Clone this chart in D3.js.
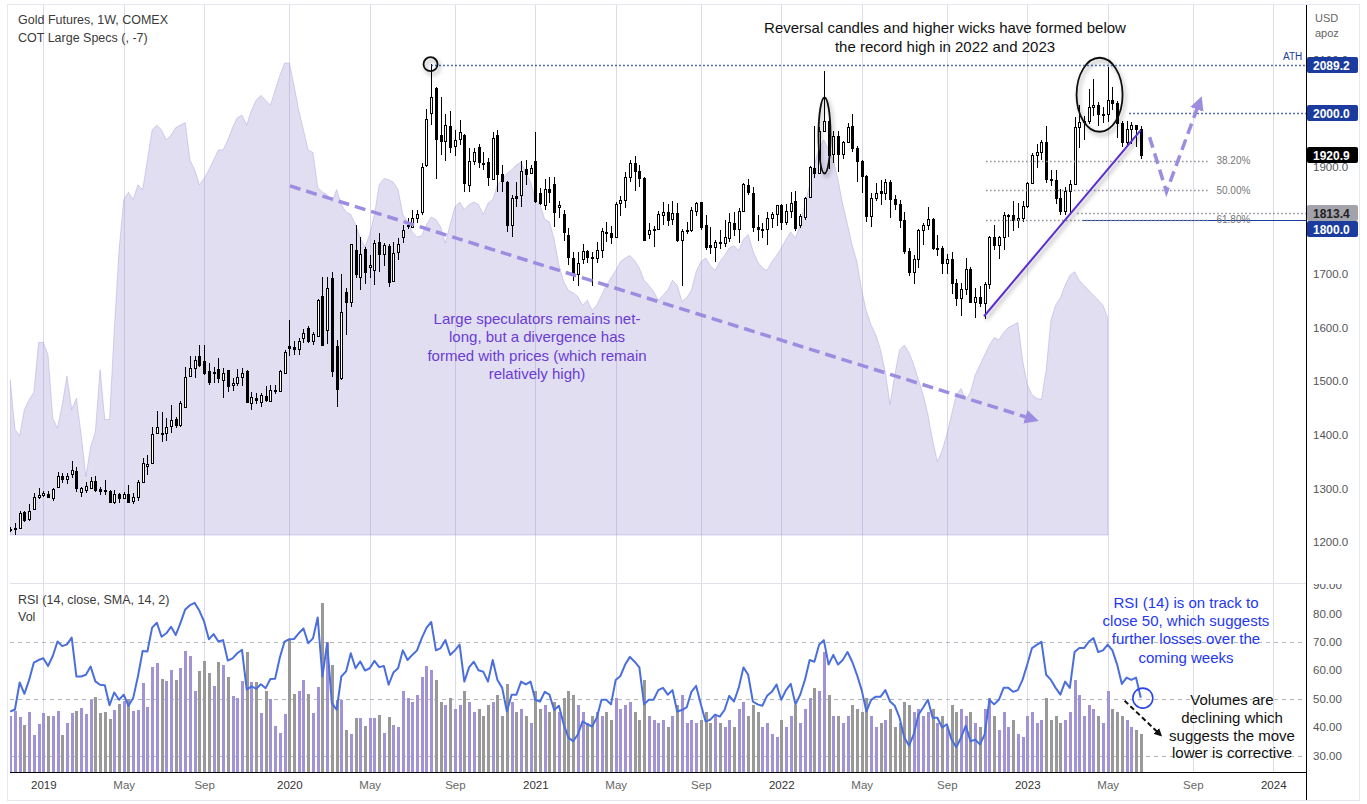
<!DOCTYPE html>
<html><head><meta charset="utf-8">
<script src="https://cdn.jsdelivr.net/npm/d3@7"></script>
<style>
body{margin:0;background:#fff;}
svg{display:block;font-family:"Liberation Sans",Arial,sans-serif;}
</style></head><body>
<svg id="c" width="1367" height="804"></svg>
<script>
// ---------------- DATA ----------------
const startWeek = "2018-11-19"; // first weekly bar (Monday)
const opens = [1222,1224,1227,1256,1243,1261,1284,1288,1289,1282,
1303,1323,1318,1326,1332,1293,1297,1300,1314,1299,
1297,1296,1275,1290,1282,1289,1276,1283,1312,1341,
1347,1404,1403,1403,1416,1429,1418,1451,1510,1524,
1547,1537,1519,1515,1522,1503,1521,1492,1496,1508,
1519,1460,1468,1462,1472,1463,1481,1482,1516,1565,
1564,1559,1581,1600,1575,1585,1659,1595,1693,1566,
1505,1666,1648,1744,1694,1746,1712,1707,1759,1737,
1752,1687,1741,1768,1790,1788,1805,1815,1903,2000,
2046,1959,1948,1976,1939,1951,1959,1866,1911,1936,
1907,1908,1877,1959,1887,1872,1792,1845,1847,1896,
1889,1911,1850,1829,1858,1867,1825,1811,1773,1729,
1699,1727,1743,1732,1729,1744,1779,1777,1769,1832,
1838,1881,1906,1892,1878,1774,1781,1783,1810,1815,
1802,1814,1763,1780,1782,1818,1834,1791,1754,1751,
1760,1757,1767,1795,1784,1818,1866,1850,1787,1784,
1784,1805,1811,1828,1797,1817,1836,1791,1806,1843,
1897,1889,1966,1985,1923,1958,1923,1945,1976,1934,
1910,1882,1808,1842,1854,1850,1871,1840,1830,1800,
1742,1703,1727,1781,1791,1802,1748,1749,1721,1728,
1683,1655,1672,1709,1648,1656,1645,1681,1769,1754,
1768,1809,1810,1800,1804,1826,1870,1921,1928,1945,
1877,1875,1842,1817,1855,1868,1973,1983,1986,2011,
2015,1999,1999,2025,2019,1981,1946,1970,1977,1971];
const highs = [1228,1235,1258,1258,1271,1291,1301,1296,1296,1301,
1331,1328,1328,1351,1339,1303,1311,1322,1324,1303,
1316,1297,1297,1291,1294,1306,1291,1316,1356,1362,
1415,1444,1443,1431,1455,1433,1463,1526,1547,1546,
1567,1567,1534,1527,1544,1524,1521,1505,1522,1524,
1520,1480,1477,1478,1491,1493,1493,1521,1558,1614,
1575,1580,1597,1602,1592,1654,1695,1695,1704,1577,
1699,1673,1756,1791,1768,1751,1735,1763,1777,1757,
1755,1759,1766,1791,1805,1820,1819,1907,2007,2091,
2048,2029,1998,2003,1968,1987,1961,1935,1934,1942,
1927,1916,1965,1968,1903,1873,1848,1872,1911,1912,
1903,1964,1860,1877,1880,1881,1835,1819,1785,1741,
1740,1755,1745,1740,1760,1785,1797,1790,1834,1846,
1890,1913,1919,1903,1880,1795,1790,1818,1834,1830,
1835,1832,1783,1796,1824,1834,1834,1809,1788,1764,
1782,1800,1814,1815,1823,1870,1877,1862,1810,1794,
1815,1815,1829,1831,1830,1853,1855,1811,1844,1902,
1976,1974,2078,1996,1966,1966,1948,1982,1998,1938,
1912,1885,1850,1870,1875,1877,1875,1848,1838,1815,
1748,1735,1783,1795,1824,1804,1772,1752,1737,1740,
1691,1683,1730,1712,1674,1677,1685,1771,1791,1770,
1815,1812,1836,1833,1835,1871,1925,1942,1949,1975,
1894,1893,1858,1862,1875,1993,2015,1994,2045,2063,
2021,2012,2085,2048,2022,1985,1985,1984,1976,1975];
const lows = [1218,1213,1224,1238,1240,1260,1281,1284,1282,1277,
1301,1310,1309,1319,1294,1283,1292,1298,1294,1288,
1288,1274,1270,1272,1280,1274,1271,1277,1310,1325,
1345,1401,1387,1389,1403,1412,1415,1450,1509,1505,
1527,1511,1493,1496,1496,1468,1480,1482,1490,1490,
1460,1447,1457,1452,1462,1462,1476,1481,1515,1546,
1549,1549,1572,1571,1567,1583,1566,1569,1508,1452,
1502,1586,1639,1692,1670,1681,1693,1679,1704,1714,
1675,1686,1726,1757,1784,1785,1794,1809,1900,1978,
1877,1922,1911,1925,1919,1940,1853,1853,1903,1897,
1894,1864,1875,1853,1853,1779,1769,1825,1825,1866,
1888,1832,1829,1819,1832,1788,1804,1761,1717,1687,
1677,1718,1720,1678,1721,1730,1760,1756,1768,1808,
1822,1872,1855,1862,1761,1765,1750,1781,1792,1789,
1791,1760,1677,1774,1778,1808,1782,1745,1737,1722,
1746,1750,1759,1770,1758,1815,1847,1778,1761,1766,
1753,1785,1790,1782,1791,1805,1780,1785,1800,1842,
1878,1888,1966,1895,1907,1890,1915,1945,1928,1872,
1851,1797,1787,1836,1829,1837,1805,1819,1785,1737,
1696,1681,1711,1754,1782,1745,1733,1700,1699,1662,
1641,1622,1660,1652,1618,1638,1616,1672,1745,1727,
1745,1768,1780,1785,1796,1822,1868,1897,1912,1870,
1864,1830,1810,1809,1813,1867,1935,1949,1980,1995,
1975,1982,1984,2005,1953,1936,1939,1942,1936,1915];
const closes = [1224,1226,1255,1241,1258,1283,1288,1291,1284,1298,
1323,1318,1323,1334,1300,1301,1305,1314,1297,1296,
1296,1275,1290,1282,1289,1275,1284,1312,1347,1345,
1401,1414,1401,1414,1427,1418,1460,1508,1524,1539,
1530,1515,1499,1517,1505,1516,1490,1497,1508,1515,
1462,1471,1465,1474,1465,1483,1483,1519,1555,1561,
1560,1575,1590,1575,1587,1651,1567,1673,1518,1485,
1628,1647,1755,1700,1737,1703,1717,1757,1737,1753,
1684,1738,1756,1782,1792,1804,1811,1899,1988,2029,
1951,1948,1978,1936,1950,1964,1869,1911,1928,1908,
1905,1881,1953,1887,1873,1791,1841,1842,1891,1886,
1897,1836,1832,1858,1852,1815,1829,1779,1732,1698,
1720,1743,1732,1729,1744,1780,1777,1768,1831,1838,
1881,1906,1892,1879,1764,1781,1784,1811,1815,1801,
1814,1763,1780,1781,1819,1833,1788,1751,1751,1759,
1757,1768,1796,1783,1818,1868,1852,1788,1783,1784,
1804,1811,1828,1797,1817,1832,1786,1808,1842,1899,
1889,1966,1985,1921,1958,1923,1945,1974,1934,1911,
1882,1808,1842,1851,1850,1871,1840,1830,1800,1742,
1703,1727,1781,1791,1802,1748,1749,1721,1728,1683,
1655,1672,1709,1648,1656,1645,1681,1769,1754,1768,
1809,1810,1800,1804,1826,1870,1921,1928,1945,1877,
1875,1842,1817,1855,1868,1973,1983,1986,2011,2015,
1999,1999,2025,2019,1981,1946,1970,1977,1971,1921];
const rsi14 = [45.5,46.2,55.7,51.7,56.6,62.7,63.6,64.2,61.5,65.0,
70.1,68.5,69.1,71.5,57.8,57.8,58.4,61.3,56.1,54.9,
54.7,47.7,52.2,49.6,51.4,47.5,50.2,57.8,66.8,66.6,
75.0,76.7,71.8,73.0,75.3,72.4,76.7,81.4,82.9,83.7,
80.9,77.1,70.9,72.7,70.1,70.6,63.4,64.2,66.0,67.2,
53.2,54.3,53.5,55.1,53.7,56.9,57.0,64.5,70.1,70.9,
71.0,73.0,74.7,69.5,71.2,78.6,57.8,69.5,48.5,46.1,
57.8,59.6,66.0,60.7,63.1,59.9,60.7,63.3,61.1,61.5,
54.9,59.2,60.7,67,63.6,65.4,67,71.3,74.9,77,
67,67.8,70.6,65.4,67,69,56,61,63,60,
59.5,56,63.6,56.6,53.8,45.5,51.4,51.4,56,55,
56,49.6,49,52.4,51.4,46,47.5,41,36.3,35,
37.4,42,41,40.2,43.3,49.6,49.6,48,56.6,58,
62,64.7,63,61,48,49.6,49.6,53,53.8,51.4,
53,45.5,46,46.9,52.4,54.5,48,42,42.6,44.4,
43.7,46,51,49,53.8,61,58.4,49,48,47.5,
51,52.4,55,49.6,53,55.2,48,51.4,56.6,63.6,
63,69,70.6,62,65.4,62,63.6,66.4,63,58.4,
53,45.5,49.6,50.7,50.7,53,49,47.5,43.3,36.3,
33.5,37.4,44.4,46.9,49.6,43.3,43.3,39.8,41,35.6,
32.9,36.3,40.5,35,35.6,33.9,37.4,49.6,48,49.6,
53.8,53.8,52.4,53,56.6,62,67.8,68.9,70,58.4,
56.6,53.8,51.4,56,53.8,66.4,67.8,67.8,70,71.3,
66.4,67,69,67,62,55.2,57.4,56.6,57.4,50.3];
const volumeK = [800,876,781,667,852,540,682,838,795,795,
866,540,696,838,866,909,824,1018,1065,838,
852,757,880,965,1008,1036,866,880,1264,923,
1491,1548,1321,1292,1448,1306,1472,1718,1642,1150,
1425,1576,1406,1216,1562,1515,1349,1074,1046,1292,
1704,1273,1273,847,1150,1032,653,568,824,1884,
1103,1150,1306,1112,838,1207,2390,1832,1519,1018,
1018,601,554,767,767,653,767,767,809,568,
781,667,639,1150,1050,1000,1100,1350,1500,1450,
1300,1000,950,1050,900,950,1150,1000,850,900,
800,950,1000,1100,800,1250,1000,850,900,800,
700,1150,900,950,850,1000,850,1050,1150,1100,
950,850,700,800,850,800,850,750,1050,900,
950,1000,850,750,1300,800,750,700,750,650,
800,950,1100,700,750,700,750,850,700,800,
700,650,750,650,900,1000,800,950,850,650,
700,550,500,750,650,800,950,700,900,1050,
1200,1150,1700,1100,800,800,700,800,950,900,
850,1050,800,650,700,750,900,650,700,1000,
950,850,900,800,850,900,700,800,650,950,
850,900,800,850,700,650,900,1050,800,600,
850,650,750,550,500,800,850,700,750,1050,
750,800,700,750,850,1300,1100,800,950,900,
800,700,1150,900,850,800,750,650,600,550];
const cotNetLongK = [125,85,80,101,109,115,155,155,145,94,
86,105,128,101,110,81,47,71,83,133,
93,93,165,229,270,276,270,282,278,302,
326,330,326,318,322,328,330,332,302,294,
282,287,294,302,310,310,318,328,336,338,
330,342,350,354,350,346,358,370,380,380,
362,342,326,310,308,280,276,274,268,278,
266,260,258,250,239,232,242,258,282,287,
286,284,278,258,252,244,240,241,250,256,
254,248,235,250,264,268,262,266,268,266,
258,267,270,282,286,291,294,298,300,292,
284,271,266,254,252,238,217,204,197,195,
192,185,189,181,185,193,201,207,213,220,
223,225,221,215,205,201,196,189,193,197,
205,201,188,191,197,212,220,223,217,213,
220,225,231,233,229,238,242,229,220,215,
213,220,225,231,238,244,239,250,266,282,
298,312,318,310,302,286,266,250,233,220,
197,180,169,161,149,131,105,129,149,153,
147,137,125,113,97,76,59,68,81,97,
113,118,109,115,129,137,145,153,159,157,
163,167,169,171,141,121,113,110,109,133,
173,185,191,201,209,212,205,201,197,193,
189,185,175];
const priceTicks = [1200,1300,1400,1500,1600,1700,1800,1900,2000,2100];
const rsiTicks = [30,40,50,60,70,80,90];
const priceBadges = [
  {label:"2089.2", value:2089.2, fill:"#1b3c9e", text:"#fff"},
  {label:"2000.0", value:2000.0, fill:"#1b3c9e", text:"#fff"},
  {label:"1920.9", value:1920.9, fill:"#000000", text:"#fff"},
  {label:"1813.4", value:1813.4, fill:"#a3a3ab", text:"#222"},
  {label:"1800.0", value:1800.0, fill:"#1b3c9e", text:"#fff"}];
const fibLow = 1622.0, fibHigh = 2089.2;
const fibLevels = [0.382, 0.5, 0.618];

// ---------------- SETUP ----------------
const L = 10, R = 1306, TOP = 5, PB = 583, RB = 772;
const svg = d3.select("#c");
const parse = d3.utcParse("%Y-%m-%d");
const d0 = parse(startWeek);
const weekDate = i => d3.utcDay.offset(d0, Math.round(7 * i));
const nAll = 272;
const allDates = d3.range(nAll).map(weekDate);
const bars = opens.map((o, i) => ({i, date: allDates[i], o, h: highs[i], l: lows[i], c: closes[i], rsi: rsi14[i], v: volumeK[i]}));

const x = d3.scaleUtc().domain([allDates[0], allDates[59]]).range([10.2, 289.3]);
const xi = i => x(weekDate(i));
const y = d3.scaleLinear().domain([1200, 2000]).range([542, 113]);
const yR = d3.scaleLinear().domain([30, 90]).range([755.5, 585]);
const yV = d3.scaleLinear().domain([0, 2400]).range([773, 602]);
const yC = d3.scaleLinear().domain([0, 380]).range([535, 63]);

const defs = svg.append("defs");
defs.append("clipPath").attr("id", "clipMain").append("rect").attr("x", L).attr("y", TOP).attr("width", R - L).attr("height", PB - TOP);
defs.append("clipPath").attr("id", "clipRsi").append("rect").attr("x", L).attr("y", PB).attr("width", R - L).attr("height", RB - PB + 1);
defs.append("clipPath").attr("id", "clipRsiAxis").append("rect").attr("x", R).attr("y", PB + 1).attr("width", 60).attr("height", RB - PB);
const sh = defs.append("filter").attr("id", "shadow").attr("x", "-50%").attr("y", "-50%").attr("width", "200%").attr("height", "200%");
sh.append("feDropShadow").attr("dx", 2).attr("dy", 3).attr("stdDeviation", 2.2).attr("flood-color", "#000").attr("flood-opacity", 0.35);
const mk = (id, col) => defs.append("marker").attr("id", id).attr("viewBox", "0 0 10 10").attr("refX", 7).attr("refY", 5)
  .attr("markerWidth", 4).attr("markerHeight", 4).attr("orient", "auto-start-reverse").attr("markerUnits", "strokeWidth")
  .append("path").attr("d", "M0,0 L10,5 L0,10 z").attr("fill", col);
mk("arrP", "#9e8ce0");
mk("arrK", "#111");

// frame
svg.append("rect").attr("x", 7.5).attr("y", 4.5).attr("width", 1352).attr("height", 796).attr("fill", "#fff").attr("stroke", "#e6e8ef");

// ticks: first weekly bar of Jan/May/Sep
const ticks = [];
for (let i = 1; i < nAll; i++) {
  const m = allDates[i].getUTCMonth();
  if (m !== allDates[i - 1].getUTCMonth() && (m === 0 || m === 4 || m === 8)) ticks.push(allDates[i]);
}

// vertical grid
svg.append("g").selectAll("line").data(ticks).join("line")
  .attr("x1", d => Math.round(x(d)) + 0.5).attr("x2", d => Math.round(x(d)) + 0.5)
  .attr("y1", TOP).attr("y2", RB).attr("stroke", "#dcdbe8").attr("stroke-width", 1);

// ---------------- MAIN PANE ----------------
const gm = svg.append("g").attr("clip-path", "url(#clipMain)");
const cot = cotNetLongK.map((v, i) => ({i, v}));
gm.append("path").datum(cot)
  .attr("d", d3.area().x(d => xi(d.i)).y0(yC(0)).y1(d => yC(d.v)))
  .attr("fill", "rgba(140,128,206,0.26)").attr("stroke", "rgba(150,138,210,0.35)").attr("stroke-width", 1);

// candles
const gc = gm.append("g").attr("shape-rendering", "crispEdges");
bars.forEach(b => {
  const c = Math.round(xi(b.i));
  const up = b.c >= b.o;
  gc.append("line").attr("x1", c + 0.5).attr("x2", c + 0.5).attr("y1", Math.round(y(b.h))).attr("y2", Math.round(y(b.l)))
    .attr("stroke", "#000").attr("stroke-width", 1);
  const t = Math.round(y(Math.max(b.o, b.c))), bt = Math.round(y(Math.min(b.o, b.c)));
  if (up) {
    gc.append("rect").attr("x", c - 0.5).attr("y", t + 0.5).attr("width", 2).attr("height", Math.max(1, bt - t))
      .attr("fill", "#fff").attr("stroke", "#000").attr("stroke-width", 1);
  } else {
    gc.append("rect").attr("x", c - 1).attr("y", t).attr("width", 3).attr("height", Math.max(2, bt - t + 1)).attr("fill", "#000");
  }
});

// reference lines
const dotted = (x1, x2, v, col, dash) => gm.append("line").attr("x1", x1).attr("x2", x2)
  .attr("y1", Math.round(y(v)) + 0.5).attr("y2", Math.round(y(v)) + 0.5).attr("stroke", col).attr("stroke-width", 1.3).attr("stroke-dasharray", dash);
dotted(xi(89), R, 2089.2, "#1b3c9e", "1.5,2.5");
dotted(xi(236.5), R, 2000, "#1b3c9e", "1.5,2.5");
dotted(xi(225.6), R, 1813.4, "#8a8a95", "1.5,2.5");
gm.append("line").attr("x1", xi(226.5)).attr("x2", R).attr("y1", Math.round(y(1800)) + 0.5).attr("y2", Math.round(y(1800)) + 0.5)
  .attr("stroke", "#1b3c9e").attr("stroke-width", 1.2);
fibLevels.forEach(f => {
  const v = fibHigh - f * (fibHigh - fibLow);
  dotted(xi(206.3), xi(253.5), v, "#8a8a95", "1.5,2.5");
  gm.append("text").attr("x", xi(255)).attr("y", y(v) + 3.5).attr("font-size", 10).attr("fill", "#777")
    .text((f * 100).toFixed(2) + "%");
});
gm.append("text").attr("x", 1283).attr("y", y(2089.2) - 5).attr("font-size", 10).attr("fill", "#1b3c9e").text("ATH");

// drawings
const line = d3.line().x(p => xi(p[0])).y(p => y(p[1]));
gm.append("path").attr("d", line([[59.2, 1864], [216.6, 1428]])).attr("fill", "none").attr("stroke", "#9e8ce0")
  .attr("stroke-width", 3.5).attr("stroke-dasharray", "11,6").attr("marker-end", "url(#arrP)");
gm.append("path").attr("d", line([[240.8, 1955], [244.4, 1853], [251.5, 2024]])).attr("fill", "none").attr("stroke", "#9e8ce0")
  .attr("stroke-width", 3.5).attr("stroke-dasharray", "11,6").attr("marker-end", "url(#arrP)");
gm.append("path").attr("d", line([[205.9, 1621], [239, 1968]])).attr("fill", "none").attr("stroke", "#5a2ed0")
  .attr("stroke-width", 2).attr("filter", "url(#shadow)");
const ell = (ci, cp, rx, ry) => gm.append("ellipse").attr("cx", xi(ci)).attr("cy", y(cp)).attr("rx", rx).attr("ry", ry)
  .attr("fill", "none").attr("stroke", "#111").attr("stroke-width", 1.8).attr("filter", "url(#shadow)");
ell(88.8, 2091, 7, 7);
ell(172.2, 1958, 6, 38);
ell(230.3, 2034, 23, 37);

// annotations
const txt = (g, lines, cx, y0, dy, col, size) => {
  const t = g.append("text").attr("text-anchor", "middle").attr("font-size", size).attr("fill", col);
  lines.forEach((s, k) => t.append("tspan").attr("x", cx).attr("y", y0 + k * dy).text(s));
};
txt(svg, ["Reversal candles and higher wicks have formed below", "the record high in 2022 and 2023"], 945, 33, 18.5, "#111", 15);
txt(svg, ["Large speculators remains net-", "long, but a divergence has", "formed with prices (which remain", "relatively high)"], 537, 324, 18.4, "#6a3cd2", 15);

svg.append("text").attr("x", 18).attr("y", 24).attr("font-size", 12.5).attr("fill", "#3a3a3a").text("Gold Futures, 1W, COMEX");
svg.append("text").attr("x", 18).attr("y", 42).attr("font-size", 12.5).attr("fill", "#3a3a3a").text("COT Large Specs (, -7)");

// ---------------- RSI PANE ----------------
svg.append("line").attr("x1", L).attr("x2", R).attr("y1", PB + 0.5).attr("y2", PB + 0.5).attr("stroke", "#e0e2ea");
const gr = svg.append("g").attr("clip-path", "url(#clipRsi)");
[70, 50, 30].forEach(v => gr.append("line").attr("x1", L).attr("x2", R).attr("y1", Math.round(yR(v)) + 0.5).attr("y2", Math.round(yR(v)) + 0.5)
  .attr("stroke", "#b4b6be").attr("stroke-dasharray", "4,4"));
gr.append("g").attr("shape-rendering", "crispEdges").selectAll("rect").data(bars).join("rect")
  .attr("x", d => Math.round(xi(d.i)) - 1).attr("width", 3)
  .attr("y", d => Math.round(yV(d.v))).attr("height", d => 773 - Math.round(yV(d.v)))
  .attr("fill", d => d.c >= d.o ? "#a193d6" : "#999999");
gr.append("path").datum(bars).attr("d", d3.line().x(d => xi(d.i)).y(d => yR(d.rsi)))
  .attr("fill", "none").attr("stroke", "#4a6fdc").attr("stroke-width", 2).attr("stroke-linejoin", "round");
svg.append("text").attr("x", 18).attr("y", 604).attr("font-size", 12.5).attr("fill", "#3a3a3a").text("RSI (14, close, SMA, 14, 2)");
svg.append("text").attr("x", 18).attr("y", 621).attr("font-size", 12.5).attr("fill", "#3a3a3a").text("Vol");

gr.append("circle").attr("cx", xi(239.4)).attr("cy", yR(50.2)).attr("r", 10).attr("fill", "none").attr("stroke", "#2a44e8").attr("stroke-width", 1.6);
svg.append("path").attr("d", d3.line()([[xi(235.5), yR(49.3)], [xi(243.2), yR(37.3)]])).attr("fill", "none").attr("stroke", "#111")
  .attr("stroke-width", 2).attr("stroke-dasharray", "5,3").attr("marker-end", "url(#arrK)");
txt(svg, ["RSI (14) is on track to", "close 50, which suggests", "further losses over the", "coming weeks"], 1186, 608, 18.2, "#2438f0", 15);
txt(svg, ["Volumes are", "declining which", "suggests the move", "lower is corrective"], 1232, 705, 17.8, "#111", 15);

// ---------------- AXES ----------------
svg.append("line").attr("x1", L).attr("x2", R).attr("y1", RB + 0.5).attr("y2", RB + 0.5).attr("stroke", "#000");
svg.append("line").attr("x1", R + 0.5).attr("x2", R + 0.5).attr("y1", TOP).attr("y2", 800).attr("stroke", "#000");

const ax = svg.append("g").attr("transform", `translate(0,${RB})`)
  .call(d3.axisBottom(x).tickValues(ticks.filter(d => x(d) < R - 20)).tickSize(0).tickPadding(9)
    .tickFormat(d => d.getUTCMonth() === 0 ? d3.utcFormat("%Y")(d) : d3.utcFormat("%b")(d)));
ax.select(".domain").remove();
ax.selectAll("text").attr("font-size", 11.5).attr("font-family", "Liberation Sans, Arial, sans-serif")
  .attr("fill", d => d.getUTCMonth() === 0 ? "#333" : "#666");

// badge positions (pushed apart) computed first so tick labels hidden behind two badges are skipped
let lastY = -100;
const badgePos = priceBadges.map(b => ({...b, cy: y(b.value)})).sort((a, b) => a.cy - b.cy).map(b => {
  const cy = Math.max(b.cy, lastY + 16); lastY = cy; return {...b, cy};
});
const covered = v => badgePos.filter(b => Math.abs(y(v) - b.cy) < 12).length > 1;

const ay = svg.append("g").attr("transform", `translate(${R},0)`)
  .call(d3.axisRight(y).tickValues(priceTicks.filter(v => !covered(v))).tickSize(0).tickPadding(7).tickFormat(d3.format(".1f")));
ay.select(".domain").remove();
ay.selectAll("text").attr("font-size", 11.5).attr("font-family", "Liberation Sans, Arial, sans-serif").attr("fill", "#555");

const arWrap = svg.append("g").attr("clip-path", "url(#clipRsiAxis)");
const ar = arWrap.append("g").attr("transform", `translate(${R},0)`)
  .call(d3.axisRight(yR).tickValues(rsiTicks).tickSize(0).tickPadding(7).tickFormat(d3.format(".2f")));
ar.select(".domain").remove();
ar.selectAll("text").attr("font-size", 11.5).attr("font-family", "Liberation Sans, Arial, sans-serif").attr("fill", "#555");

svg.append("text").attr("x", 1315).attr("y", 22).attr("font-size", 11).attr("fill", "#666").text("USD");
svg.append("text").attr("x", 1315).attr("y", 37).attr("font-size", 11).attr("fill", "#666").text("apoz");

badgePos.forEach(b => {
  const g = svg.append("g");
  g.append("rect").attr("x", R + 1).attr("y", Math.round(b.cy - 8)).attr("width", 51).attr("height", 16).attr("rx", 2).attr("fill", b.fill);
  g.append("text").attr("x", R + 7).attr("y", b.cy + 4.5).attr("font-size", 12).attr("font-weight", "bold").attr("fill", b.text).text(b.label);
});
</script>
</body></html>
